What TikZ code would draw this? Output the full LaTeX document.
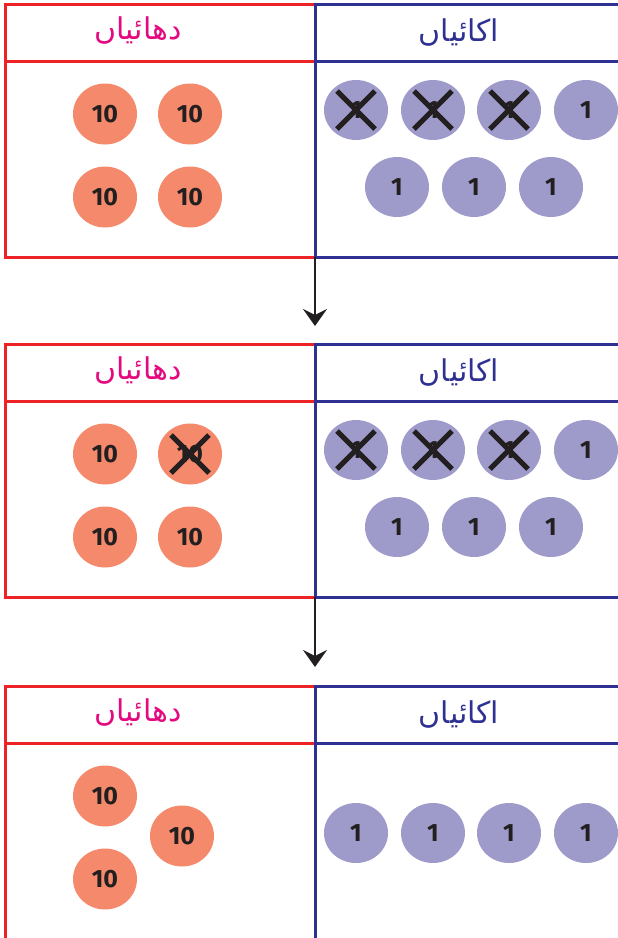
\documentclass[tikz,border=0pt]{standalone}
\usepackage{fontspec}
\usetikzlibrary{shapes.geometric,arrows.meta}
\newfontfamily\urdufont[Script=Arabic]{DejaVu Sans}
\newfontfamily\numfont{Fira Sans}
\TeXXeTstate=1
\definecolor{boxred}{HTML}{EC2227}
\definecolor{boxblue}{HTML}{2E3092}
\definecolor{headpink}{HTML}{E5097F}
\definecolor{headblue}{HTML}{2E3192}
\definecolor{tenorange}{HTML}{F4896B}
\definecolor{onelilac}{HTML}{9E9BCA}
\definecolor{numblack}{HTML}{231F20}
\begin{document}
\begin{tikzpicture}[x=1pt, y=-1pt,
	tens/.style = {ellipse, fill=tenorange, minimum width=64pt, minimum height=61pt, inner sep=0pt, text=numblack, font=\numfont\bfseries\fontsize{25}{25}\selectfont},
	ones/.style = {ellipse, fill=onelilac, minimum width=64pt, minimum height=60pt, inner sep=0pt, text=numblack, font=\numfont\bfseries\fontsize{25}{25}\selectfont},
	redline/.style = {draw=boxred, line width=3pt},
	blueline/.style = {draw=boxblue, line width=3pt},
	cut/.style = {draw=numblack, line width=5pt},
	head/.style = {font=\urdufont\fontsize{30}{30}\selectfont}]
	\useasboundingbox (0,0) rectangle (618,938);

	% first table
	\draw[redline] (5,4) rectangle (315,257);
	\draw[redline] (5,61) -- (315,61);
	\draw[blueline] (625,4) -- (315,4) -- (315,257) -- (625,257);
	\draw[blueline] (315,61) -- (625,61);
	\node[head, text=headpink] (h1l) at (138,31) {\beginR دهائیاں\endR};
	\node[head, text=headblue] (h1r) at (459,33) {\beginR اکائیاں\endR};

	\node[tens] (t1a) at (105,114) {10};
	\node[tens] (t1b) at (190,114) {10};
	\node[tens] (t1c) at (105,197) {10};
	\node[tens] (t1d) at (190,197) {10};

	\node[ones] (o1a) at (356,110) {1};
	\node[ones] (o1b) at (433,110) {1};
	\node[ones] (o1c) at (509,110) {1};
	\node[ones] (o1d) at (586,110) {1};
	\node[ones] (o1e) at (397,187) {1};
	\node[ones] (o1f) at (474,187) {1};
	\node[ones] (o1g) at (551,187) {1};

	\coordinate (a1) at (315,257);
	\coordinate (a2) at (315,326);
	\draw[-{Stealth[length=17pt,width=24pt,inset=6pt]}, line width=2pt, numblack] (a1) -- (a2);

	% second table
	\draw[redline] (5,344) rectangle (315,597);
	\draw[redline] (5,401) -- (315,401);
	\draw[blueline] (625,344) -- (315,344) -- (315,597) -- (625,597);
	\draw[blueline] (315,401) -- (625,401);
	\node[head, text=headpink] (h2l) at (138,371) {\beginR دهائیاں\endR};
	\node[head, text=headblue] (h2r) at (459,373) {\beginR اکائیاں\endR};

	\node[tens] (t2a) at (105,454) {10};
	\node[tens] (t2b) at (190,454) {10};
	\node[tens] (t2c) at (105,537) {10};
	\node[tens] (t2d) at (190,537) {10};

	\node[ones] (o2a) at (356,450) {1};
	\node[ones] (o2b) at (433,450) {1};
	\node[ones] (o2c) at (509,450) {1};
	\node[ones] (o2d) at (586,450) {1};
	\node[ones] (o2e) at (397,527) {1};
	\node[ones] (o2f) at (474,527) {1};
	\node[ones] (o2g) at (551,527) {1};

	\coordinate (b1) at (315,597);
	\coordinate (b2) at (315,667);
	\draw[-{Stealth[length=17pt,width=24pt,inset=6pt]}, line width=2pt, numblack] (b1) -- (b2);

	% third table
	\draw[redline] (5,950) -- (5,686) -- (315,686);
	\draw[redline] (5,743) -- (315,743);
	\draw[blueline] (625,686) -- (315,686) -- (315,950);
	\draw[blueline] (315,743) -- (625,743);
	\node[head, text=headpink] (h3l) at (138,713) {\beginR دهائیاں\endR};
	\node[head, text=headblue] (h3r) at (459,715) {\beginR اکائیاں\endR};

	\node[tens] (t3a) at (105,796) {10};
	\node[tens] (t3b) at (182,836) {10};
	\node[tens] (t3c) at (105,879) {10};

	\node[ones] (o3a) at (356,833) {1};
	\node[ones] (o3b) at (433,833) {1};
	\node[ones] (o3c) at (509,833) {1};
	\node[ones] (o3d) at (586,833) {1};

	% crossed out counters
	\foreach \n in {o1a,o1b,o1c,o2a,o2b,o2c,t2b} {
		\draw[cut] ([shift={(-19,-19)}]\n.center) -- ([shift={(19,19)}]\n.center);
		\draw[cut] ([shift={(-19,19)}]\n.center) -- ([shift={(19,-19)}]\n.center);
	}
\end{tikzpicture}
\end{document}
